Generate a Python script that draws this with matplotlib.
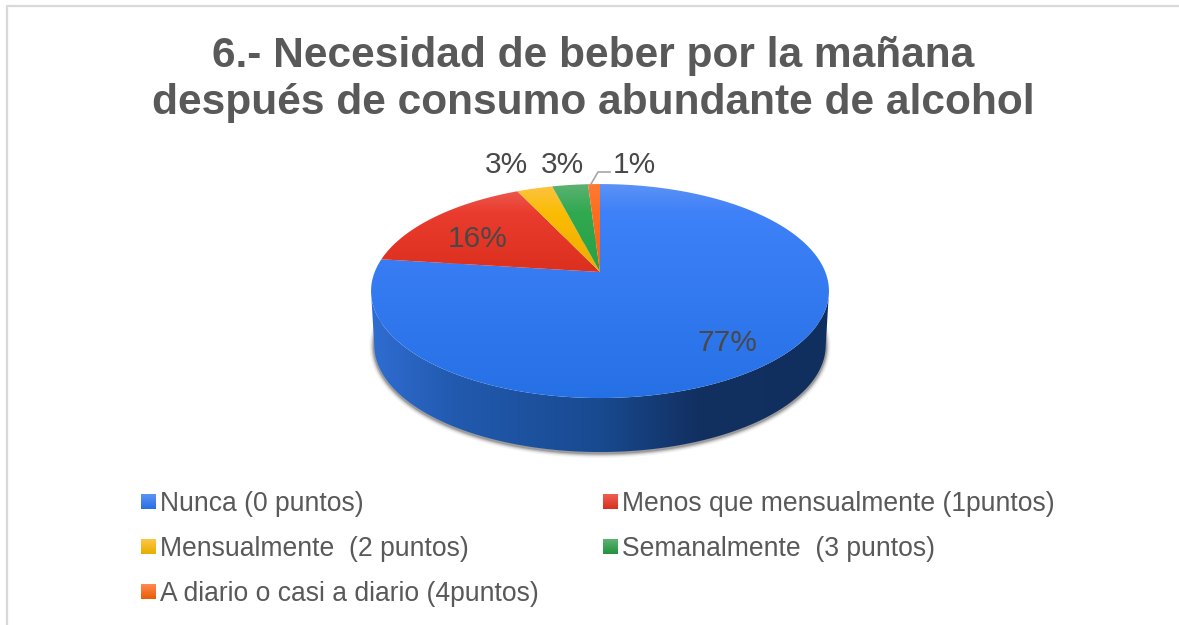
import numpy as np
import matplotlib
matplotlib.use("Agg")
import matplotlib.pyplot as plt
from matplotlib.colors import LinearSegmentedColormap as LSC
from matplotlib.patches import Polygon

# ---------- data ----------
title_text = "6.- Necesidad de beber por la mañana\ndespués de consumo abundante de alcohol"
categories = ["Nunca (0 puntos)", "Menos que mensualmente (1puntos)",
              "Mensualmente  (2 puntos)", "Semanalmente  (3 puntos)",
              "A diario o casi a diario (4puntos)"]
values = [77, 16, 3, 3, 1]
labels = ["77%", "16%", "3%", "3%", "1%"]

# ---------- styles ----------
face_stops = [[(0, "#5b92f6"), (0.13, "#3e81f8"), (1, "#2670e6")],
              [(0, "#ec6157"), (0.13, "#ea3c2e"), (0.4, "#dc301f"), (1, "#dc301f")],
              [(0, "#fcc445"), (0.13, "#fbbc04"), (0.4, "#f0ab00"), (1, "#f0ab00")],
              [(0, "#5cb172"), (0.13, "#30a950"), (0.4, "#28a046"), (1, "#28a046")],
              [(0, "#ff7a33"), (0.13, "#ff6d1f"), (0.4, "#f96410"), (1, "#f96410")]]
swatch_stops = [["#5b93f7", "#2a6fe0"], ["#ee5f52", "#d92f1e"],
                ["#fdc746", "#e8ad00"], ["#5cb474", "#23913f"],
                ["#ff8a50", "#e85c05"]]
side_stops = [(0.0, "#2f6dd2"), (0.18, "#225aaf"), (0.50, "#184a90"),
              (0.72, "#122f60"), (1.0, "#10305f")]
label_pos = [(727, 343), (478, 239), (506, 165), (562, 165), (634, 165)]
legend_xy = [(141, 502), (603, 502), (141, 547), (603, 547), (141, 592)]

CX, CY, K, C, A = 600.0, 272.0, 225.3, 103.6, 0.178
DEPTH, BOT = 54.0, 0.986

plt.rcParams["font.family"] = ["Liberation Sans", "DejaVu Sans"]
fig = plt.figure(figsize=(11.79, 6.25), dpi=100)
ax = fig.add_axes([0, 0, 1, 1])


def project(theta, scale=1.0, dy=0.0):
    x, y = np.sin(theta), np.cos(theta)
    d = 1 + A * y
    return np.column_stack([CX + scale * K * x / d, CY + dy - C * y / d])


def grad(stops, extent, clip, horizontal=False, zorder=2):
    cmap = LSC.from_list("g", stops)
    g = np.linspace(0, 1, 256)
    g = g[None, :] if horizontal else g[:, None]
    im = ax.imshow(g, cmap=cmap, extent=extent, aspect="auto",
                   origin="upper", interpolation="bilinear", zorder=zorder)
    p = Polygon(clip, closed=True, transform=ax.transData, fc="none", ec="none")
    ax.add_patch(p)
    im.set_clip_path(p)


full = np.linspace(0, 2 * np.pi, 721)
top = project(full)
bottom = project(full, BOT, DEPTH)

# soft shadow around the lower rim
for lw, al in [(7, 0.06), (5, 0.10), (3.5, 0.16), (2, 0.26)]:
    ax.plot(bottom[:, 0], bottom[:, 1] + 1, color="#303030", lw=lw, alpha=al,
            zorder=1, solid_capstyle="round")

# side wall
il, ir = np.argmin(top[:, 0]), np.argmax(top[:, 0])
jl, jr = np.argmin(bottom[:, 0]), np.argmax(bottom[:, 0])
side = np.vstack([top[ir:il + 1], bottom[jl:jr - 1:-1]])
grad(side_stops, (371, 829, 460, 280), side, horizontal=True, zorder=2)

# top faces, clockwise from twelve o'clock
edges = np.cumsum([0] + values) / sum(values) * 2 * np.pi
for i in range(len(values)):
    th = np.linspace(edges[i], edges[i + 1], 200)
    poly = np.vstack([[CX, CY], project(th)])
    grad(face_stops[i], (365, 835, 400, 184), poly, zorder=3 + i * 0.01)

# labels
for (x, y), s in zip(label_pos, labels):
    ax.text(x, y, s, fontsize=21.5, color="#484848", ha="center",
            va="center", zorder=6)
ax.plot([591, 598, 610], [184, 172, 172], color="#a6a6a6", lw=1.2, zorder=5)

# title
ax.text(593.5, 79.5, title_text, fontsize=30.6, fontweight="bold", color="#595959",
        ha="center", va="center", linespacing=1.23, zorder=6)

# legend
for (x, y), s, st in zip(legend_xy, categories, swatch_stops):
    g = np.linspace(0, 1, 64)[:, None]
    ax.imshow(g, cmap=LSC.from_list("s", st), aspect="auto", origin="upper",
              extent=(x, x + 14.5, y + 7.5, y - 7.5), zorder=6)
    ax.text(x + 19.5, y + 2, s, fontsize=19.1, color="#595959", ha="left",
            va="center", zorder=6)

# chart frame
ax.plot([7, 7, 1179], [625, 6, 6], color="#d9d9d9", lw=1.6, zorder=7)

ax.set_xlim(0, 1179)
ax.set_ylim(625, 0)
ax.axis("off")
fig.savefig("out.png", dpi=100, facecolor="white")
